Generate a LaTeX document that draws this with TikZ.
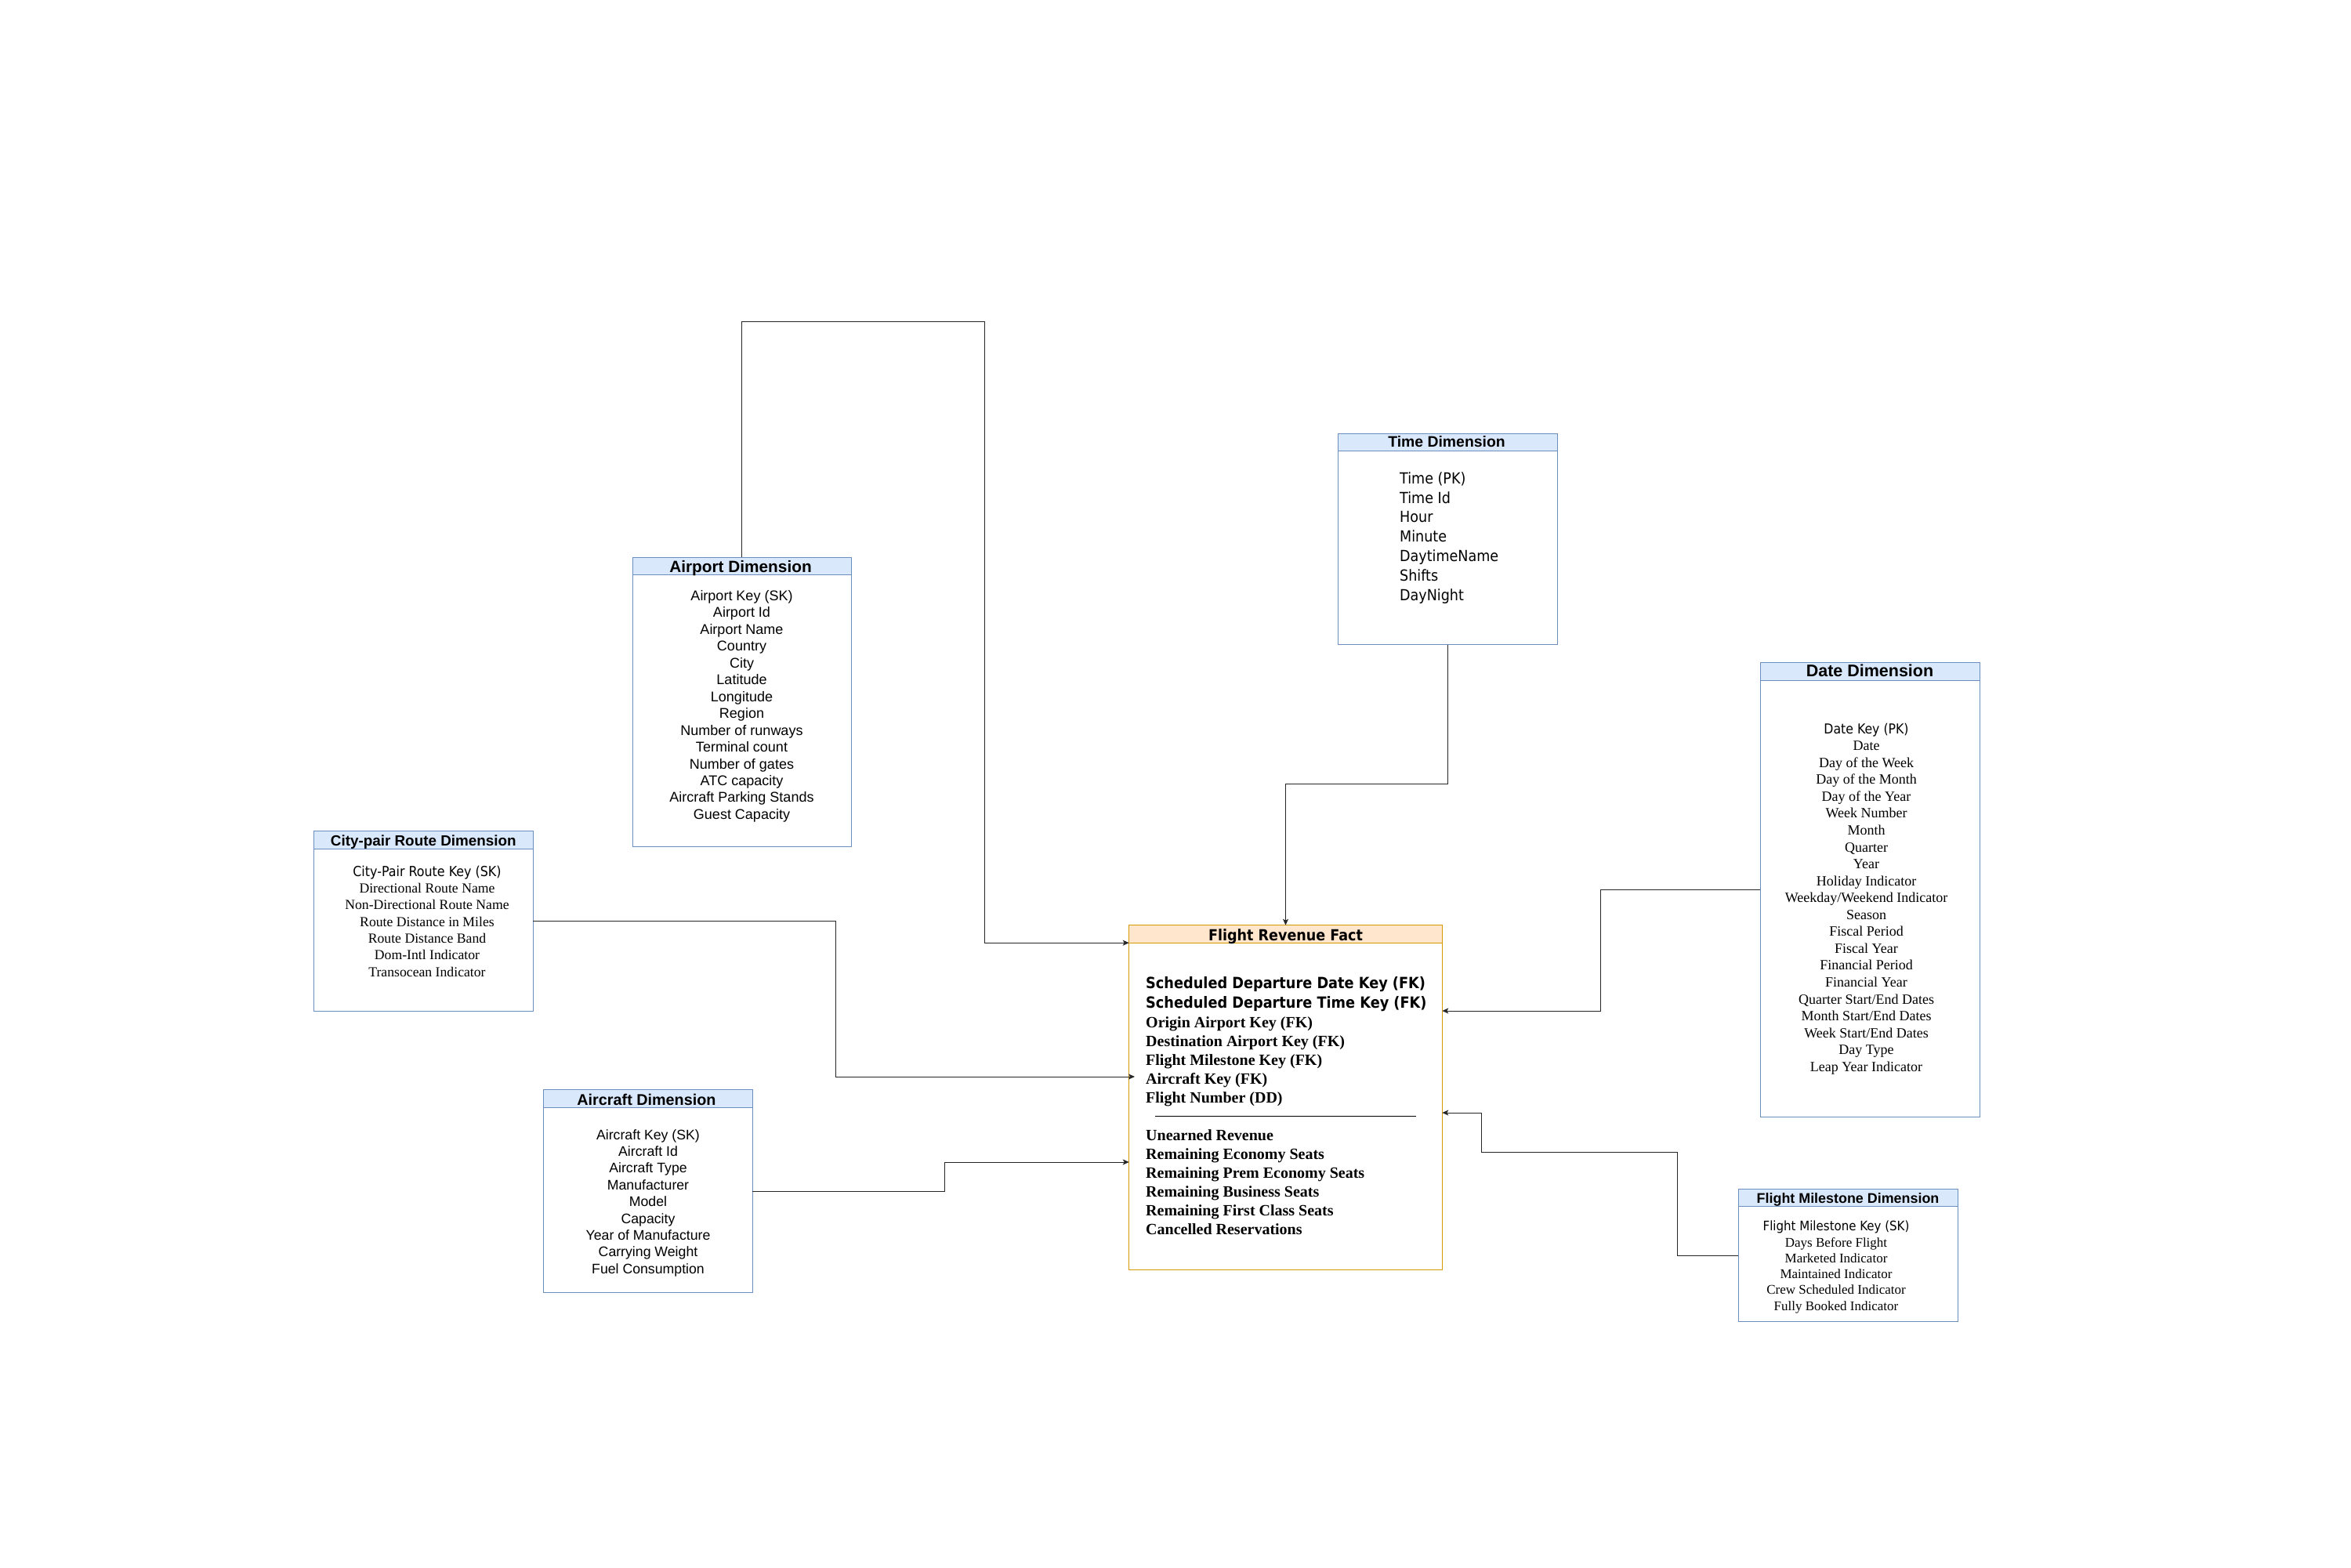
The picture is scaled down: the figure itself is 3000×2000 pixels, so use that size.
\documentclass[tikz,border=0pt]{standalone}
\usepackage{fontspec}
\setmainfont{Liberation Sans}
\newfontfamily\arialf{Liberation Sans}
\newfontfamily\tahf{DejaVu Sans Condensed}
\newfontfamily\tnrf{Liberation Serif}
\usetikzlibrary{arrows.meta}
\definecolor{dimfill}{HTML}{DAE8FC}
\definecolor{dimline}{HTML}{6C8EBF}
\definecolor{factfill}{HTML}{FFE6CC}
\definecolor{factline}{HTML}{D79B00}
\begin{document}
\begin{tikzpicture}[x=1pt,y=-1pt,
  dimbox/.style={draw=dimline, fill=white, line width=1pt, anchor=north west, inner sep=0pt, outer sep=0pt},
  dimhead/.style={draw=dimline, fill=dimfill, line width=1pt, anchor=north west, inner sep=0pt, outer sep=0pt, minimum height=22.5pt},
  factbox/.style={draw=factline, fill=white, line width=1pt, anchor=north west, inner sep=0pt, outer sep=0pt},
  facthead/.style={draw=factline, fill=factfill, line width=1pt, anchor=north west, inner sep=0pt, outer sep=0pt, minimum height=22.5pt},
  ttl/.style={anchor=base, inner sep=0pt, font={\arialf\bfseries\fontsize{#1}{#1}\selectfont}},
  item/.style={anchor=base, inner sep=0pt},
  conn/.style={draw=black!85, line width=0.9pt, -{Stealth[length=8pt,width=7pt,inset=2pt]}},
]
\useasboundingbox (0,0) rectangle (3000,2000);
\fill[white] (0,0) rectangle (3000,2000);

% ---------- Airport Dimension ----------
\node[dimbox, minimum width=279pt, minimum height=369pt] (airport) at (807,711) {};
\node[dimhead, minimum width=279pt] (airporth) at (807,711) {};
\node[ttl=20.8] (airportt) at (945,730.5) {Airport Dimension};
\foreach \t [count=\i from 0] in {Airport Key (SK), Airport Id, Airport Name, Country, City, Latitude, Longitude, Region, Number of runways, Terminal count, Number of gates, ATC capacity, Aircraft Parking Stands, Guest Capacity}
  \node[item, font={\arialf\fontsize{18}{21}\selectfont}] (air\i) at (946.5,{766.5+21.45*\i}) {\t};

% ---------- Time Dimension ----------
\node[dimbox, minimum width=280pt, minimum height=269.7pt] (time) at (1707,553) {};
\node[dimhead, minimum width=280pt] (timeh) at (1707,553) {};
\node[ttl=19.4] (timet) at (1846,570.7) {Time Dimension};
\foreach \t [count=\i from 0] in {Time (PK), Time Id, Hour, Minute, DaytimeName, Shifts, DayNight}
  \node[item, anchor=base west, font={\tahf\fontsize{19.5}{23}\selectfont}] (tim\i) at (1786,{617.3+24.8*\i}) {\t};

% ---------- Date Dimension ----------
\node[dimbox, minimum width=280pt, minimum height=579.5pt] (date) at (2246,845.5) {};
\node[dimhead, minimum width=280pt] (dateh) at (2246,845.5) {};
\node[ttl=21.5] (datet) at (2386,863.3) {Date Dimension};
\node[item, font={\tahf\fontsize{17.5}{21}\selectfont}] (dat0) at (2381.5,936.1) {Date Key (PK)};
\foreach \t [count=\i from 1] in {Date, Day of the Week, Day of the Month, Day of the Year, Week Number, Month, Quarter, Year, Holiday Indicator, Weekday/Weekend Indicator, Season, Fiscal Period, Fiscal Year, Financial Period, Financial Year, Quarter Start/End Dates, Month Start/End Dates, Week Start/End Dates, Day Type, Leap Year Indicator}
  \node[item, font={\tnrf\fontsize{18}{21}\selectfont}] (dat\i) at (2381.5,{936.1+21.56*\i}) {\t};

% ---------- City-pair Route Dimension ----------
\node[dimbox, minimum width=279.3pt, minimum height=229.3pt] (city) at (400.7,1060.7) {};
\node[dimhead, minimum width=279.3pt] (cityh) at (400.7,1060.7) {};
\node[ttl=18.85] (cityt) at (540.3,1079.3) {City-pair Route Dimension};
\node[item, font={\tahf\fontsize{17.7}{21}\selectfont}] (cit0) at (545,1118.3) {City-Pair Route Key (SK)};
\foreach \t [count=\i from 1] in {Directional Route Name, Non-Directional Route Name, Route Distance in Miles, Route Distance Band, Dom-Intl Indicator, Transocean Indicator}
  \node[item, font={\tnrf\fontsize{17.7}{21}\selectfont}] (cit\i) at (545,{1118.3+21.3*\i}) {\t};

% ---------- Aircraft Dimension ----------
\node[dimbox, minimum width=266.7pt, minimum height=258.6pt] (aircraft) at (693.3,1390.7) {};
\node[dimhead, minimum width=266.7pt] (aircrafth) at (693.3,1390.7) {};
\node[ttl=19.8] (aircraftt) at (825,1410) {Aircraft Dimension};
\foreach \t [count=\i from 0] in {Aircraft Key (SK), Aircraft Id, Aircraft Type, Manufacturer, Model, Capacity, Year of Manufacture, Carrying Weight, Fuel Consumption}
  \node[item, font={\arialf\fontsize{17.7}{21}\selectfont}] (acf\i) at (827,{1454+21.4*\i}) {\t};

% ---------- Flight Milestone Dimension ----------
\node[dimbox, minimum width=280pt, minimum height=169.4pt] (mile) at (2218.3,1517.3) {};
\node[dimhead, minimum width=280pt] (mileh) at (2218.3,1517.3) {};
\node[ttl=17.9] (milet) at (2358,1535) {Flight Milestone Dimension};
\node[item, font={\tahf\fontsize{16.7}{20}\selectfont}] (mil0) at (2343,1570.7) {Flight Milestone Key (SK)};
\foreach \t [count=\i from 1] in {Days Before Flight, Marketed Indicator, Maintained Indicator, Crew Scheduled Indicator, Fully Booked Indicator}
  \node[item, font={\tnrf\fontsize{17}{20}\selectfont}] (mil\i) at (2343,{1570.7+20.3*\i}) {\t};

% ---------- Flight Revenue Fact ----------
\node[factbox, minimum width=399.6pt, minimum height=439.3pt] (fact) at (1440.7,1180.7) {};
\node[facthead, minimum width=399.6pt] (facth) at (1440.7,1180.7) {};
\node[anchor=base, inner sep=0pt, font={\tahf\bfseries\fontsize{19.5}{20}\selectfont}] (factt) at (1640.5,1200.7) {Flight Revenue Fact};
\node[item, anchor=base west, font={\tahf\bfseries\fontsize{19.7}{24}\selectfont}] (fk0) at (1462,1261.7) {Scheduled Departure Date Key (FK)};
\node[item, anchor=base west, font={\tahf\bfseries\fontsize{19.7}{24}\selectfont}] (fk1) at (1462,1286.7) {Scheduled Departure Time Key (FK)};
\foreach \t [count=\i from 2] in {Origin Airport Key (FK), Destination Airport Key (FK), Flight Milestone Key (FK), Aircraft Key (FK), Flight Number (DD)}
  \node[item, anchor=base west, font={\tnrf\bfseries\fontsize{20}{24}\selectfont}] (fk\i) at (1462,{1262.7+24.2*\i}) {\t};
\coordinate (sepa) at (1474,1424);
\coordinate (sepb) at (1807,1424);
\draw[line width=1pt] (sepa) -- (sepb);
\foreach \t [count=\i from 0] in {Unearned Revenue, Remaining Economy Seats, Remaining Prem Economy Seats, Remaining Business Seats, Remaining First Class Seats, Cancelled Reservations}
  \node[item, anchor=base west, font={\tnrf\bfseries\fontsize{20}{24}\selectfont}] (ms\i) at (1462,{1455.7+24*\i}) {\t};

% ---------- Connectors ----------
\coordinate (ab) at (1256,410);
\draw[conn] (airport.north) |- (ab) |- (facth.south west);

\coordinate (tb) at (1847,1000.7);
\draw[conn] (time.south) -- (tb) -| (fact.north);

\coordinate (db) at (2042,1290);
\draw[conn] (date.west) -| (db) -- (fact.east |- db);

\coordinate (cb) at (1066,1374);
\coordinate (cityend) at (1448,1374);
\draw[conn] (city.east) -| (cb) -- (cityend);

\coordinate (kb) at (1205.4,1483);
\draw[conn] (aircraft.east) -| (kb) -- (fact.west |- kb);

\coordinate (mb1) at (2140,1470);
\coordinate (mb2) at (1890.5,1420);
\draw[conn] (mile.west) -| (mb1) -| (mb2) -- (fact.east |- mb2);
\end{tikzpicture}
\end{document}
